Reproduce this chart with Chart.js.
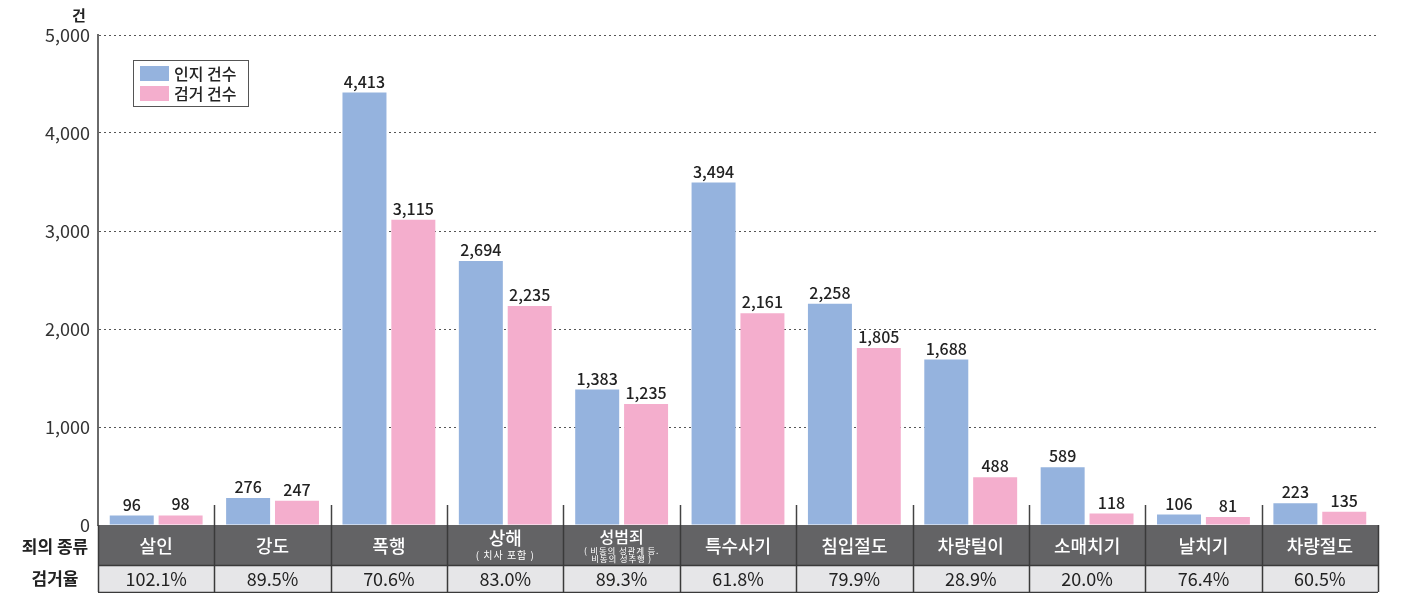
<!DOCTYPE html>
<html><head><meta charset="utf-8">
<script src="https://cdn.jsdelivr.net/npm/chart.js@4.4.1/dist/chart.umd.min.js"></script>
<style>html,body{margin:0;padding:0;background:#fff}#wrap{width:1404px;height:593px;position:relative}</style>
</head><body><div id="wrap"><canvas id="c" width="1404" height="593"></canvas></div>
<script>
const categories = ['살인','강도','폭행','상해','성범죄','특수사기','침입절도','차량털이','소매치기','날치기','차량절도'];
const subLabels = [[],[],[],['( 치사 포함 )'],['( 비동의 성관계 등.','비동의 성추행 )'],[],[],[],[],[],[]];
const recognized = [96,276,4413,2694,1383,3494,2258,1688,589,106,223];
const arrested = [98,247,3115,2235,1235,2161,1805,488,118,81,135];
const arrestRate = ['102.1%','89.5%','70.6%','83.0%','89.3%','61.8%','79.9%','28.9%','20.0%','76.4%','60.5%'];
const yTicks = [0,1000,2000,3000,4000,5000];
const seriesNames = ['인지 건수','검거 건수'];
const FONT = '"Noto Sans CJK KR", "Noto Sans", sans-serif';
const BLUE = '#95b3de', PINK = '#f4aecd';

const overlay = {
  id:'overlay',
  afterDatasetsDraw(chart){
    const ctx = chart.ctx, ca = chart.chartArea, xs = chart.scales.x;
    ctx.save();
    // value labels
    chart.data.datasets.forEach((ds,di)=>{
      const meta = chart.getDatasetMeta(di);
      meta.data.forEach((bar,i)=>{
        ctx.font = '500 16px ' + FONT;
        ctx.fillStyle = '#222';
        ctx.textAlign = 'center';
        ctx.textBaseline = 'bottom';
        ctx.fillText(ds.data[i].toLocaleString('en-US'), bar.x, bar.y - 3);
      });
    });
    const n = categories.length;
    const w = (ca.right - ca.left)/n;
    // separators in plot bottom
    ctx.strokeStyle = '#444'; ctx.lineWidth = 1.5;
    for(let i=1;i<n;i++){
      const x = Math.round(ca.left + i*w)+0.5;
      ctx.beginPath(); ctx.moveTo(x, ca.bottom-20); ctx.lineTo(x, ca.bottom); ctx.stroke();
    }
    // table
    const r1t = ca.bottom, r1b = 565, r2t = 566, r2b = 592;
    ctx.fillStyle = '#636365';
    ctx.fillRect(ca.left, r1t, ca.right-ca.left, r1b-r1t);
    ctx.fillStyle = '#e6e6e8';
    ctx.fillRect(ca.left, r2t, ca.right-ca.left, r2b-r2t);
    ctx.strokeStyle = '#3a3a3a'; ctx.lineWidth = 1.5;
    for(let i=0;i<=n;i++){
      const x = Math.round(ca.left + i*w)+0.5;
      ctx.beginPath(); ctx.moveTo(x, r1t); ctx.lineTo(x, r2b); ctx.stroke();
    }
    ctx.beginPath(); ctx.moveTo(ca.left, r2t-0.5); ctx.lineTo(ca.right, r2t-0.5); ctx.stroke();
    ctx.beginPath(); ctx.moveTo(ca.left, r2b+0.5); ctx.lineTo(ca.right, r2b+0.5); ctx.stroke();
    ctx.textAlign = 'center'; ctx.textBaseline = 'middle';
    for(let i=0;i<n;i++){
      const cx = xs.getPixelForValue(i);
      const subs = subLabels[i];
      ctx.fillStyle = '#fff';
      ctx.letterSpacing = '0px';
      if(subs.length===0){
        ctx.font = '500 18px ' + FONT;
        ctx.fillText(categories[i], cx, 546);
      } else if(subs.length===1){
        ctx.font = '500 18px ' + FONT;
        ctx.fillText(categories[i], cx, 538);
        ctx.font = '10px ' + FONT;
        ctx.letterSpacing = '1px';
        ctx.fillText(subs[0], cx, 555);
      } else {
        ctx.font = '500 16px ' + FONT;
        ctx.fillText(categories[i], cx, 537);
        ctx.font = '8.5px ' + FONT;
        ctx.letterSpacing = '0.8px';
        ctx.fillText(subs[0], cx, 550.5);
        ctx.fillText(subs[1], cx, 558.5);
      }
      ctx.letterSpacing = '0px';
      ctx.fillStyle = '#222';
      ctx.font = '18px ' + FONT;
      ctx.fillText(arrestRate[i], cx, 579);
    }
    // row headers
    ctx.fillStyle = '#222';
    ctx.font = 'bold 17px ' + FONT;
    ctx.fillText('죄의 종류', 55, 547);
    ctx.fillText('검거율', 55, 579);
    // unit
    ctx.font = 'bold 15px ' + FONT;
    ctx.fillText('건', 79, 15);
    // legend
    const lx = 133, ly = 60;
    ctx.fillStyle = '#fff';
    ctx.fillRect(lx, ly, 115, 46);
    ctx.strokeStyle = '#555'; ctx.lineWidth = 1;
    ctx.strokeRect(lx+0.5, ly+0.5, 115, 46);
    const cols = [BLUE, PINK];
    ctx.textAlign = 'left';
    ctx.font = '500 16px ' + FONT;
    for(let k=0;k<2;k++){
      ctx.fillStyle = cols[k];
      ctx.fillRect(lx+7, ly+6+k*20, 29, 15);
      ctx.fillStyle = '#222';
      ctx.fillText(seriesNames[k], lx+41, ly+14+k*20);
    }
    ctx.restore();
  }
};

new Chart(document.getElementById('c'), {
  type:'bar',
  data:{
    labels: categories,
    datasets:[
      {label:seriesNames[0], data:recognized, backgroundColor:BLUE, categoryPercentage:0.84, barPercentage:0.9},
      {label:seriesNames[1], data:arrested, backgroundColor:PINK, categoryPercentage:0.84, barPercentage:0.9}
    ]
  },
  options:{
    responsive:false, animation:false,
    layout:{padding:{top:35,bottom:68,left:0,right:26}},
    plugins:{legend:{display:false}, tooltip:{enabled:false}},
    scales:{
      x:{display:false},
      y:{
        min:0,max:5000,
        afterFit(s){ s.width = 98; },
        afterBuildTicks(s){ s.ticks = yTicks.map(v=>({value:v})); },
        ticks:{font:{size:18,family:FONT},color:'#333',padding:8,
          callback:v=>v.toLocaleString('en-US')},
        grid:{color:'#555',lineWidth:1,drawTicks:false},
        border:{display:true,color:'#6a6a6a',width:2,dash:[2,3]}
      }
    }
  },
  plugins:[overlay]
});
</script></body></html>
